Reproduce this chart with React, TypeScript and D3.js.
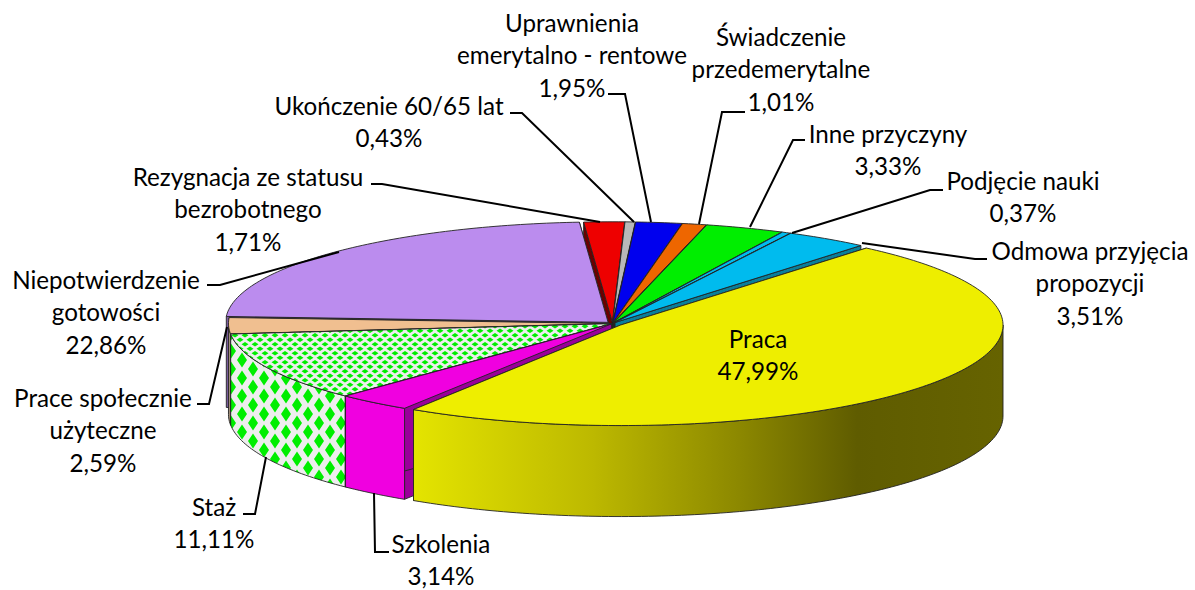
import React from 'react';
import * as d3 from 'd3';

// values in percent, clockwise from the yellow slice
const categories = [
  'Praca', 'Szkolenia', 'Staż', 'Prace społecznie użyteczne', 'Niepotwierdzenie gotowości',
  'Rezygnacja ze statusu bezrobotnego', 'Ukończenie 60/65 lat', 'Uprawnienia emerytalno - rentowe',
  'Świadczenie przedemerytalne', 'Inne przyczyny', 'Podjęcie nauki', 'Odmowa przyjęcia propozycji',
];
const values = [47.99, 3.14, 11.11, 2.59, 22.86, 1.71, 0.43, 1.95, 1.01, 3.33, 0.37, 3.51];
const valueLabels = ['47,99%', '3,14%', '11,11%', '2,59%', '22,86%', '1,71%', '0,43%', '1,95%', '1,01%', '3,33%', '0,37%', '3,51%'];

const labelLines = [
  ['Praca'], ['Szkolenia'], ['Staż'], ['Prace społecznie', 'użyteczne'], ['Niepotwierdzenie', 'gotowości'],
  ['Rezygnacja ze statusu', 'bezrobotnego'], ['Ukończenie 60/65 lat'], ['Uprawnienia', 'emerytalno - rentowe'],
  ['Świadczenie', 'przedemerytalne'], ['Inne przyczyny'], ['Podjęcie nauki'], ['Odmowa przyjęcia', 'propozycji'],
];

// layout and styling, same order as above
const labelX = [758, 441, 214, 103, 106, 248, 389, 572, 781, 888, 1023, 1090];
const labelY = [338, 543, 506, 397, 279, 176, 105, 22, 36, 133, 180, 250];
const leaders: [number, number][][] = [
  [],
  [[389, 552], [375, 552], [374, 493]],
  [[243, 514], [255, 514], [266, 457]],
  [[197, 404], [209, 404], [227, 327]],
  [[207, 285], [220, 285], [339, 252]],
  [[371, 184], [382, 184], [600, 222]],
  [[510, 113], [522, 113], [634, 222]],
  [[608, 94], [625, 94], [651, 222]],
  [[745, 112], [722, 112], [699, 224]],
  [[805, 140], [793, 140], [750, 227]],
  [[943, 190], [930, 190], [792, 233]],
  [[987, 259], [975, 259], [862, 243]],
];
const topFill = ['#eeee00', '#f000e0', 'url(#stazTop)', '#f0bf90', '#bb8cee', '#ee0000', '#b8b8b8', '#0000ee', '#ee6600', '#00ee00', '#00bbee', '#00bbee'];
const sideFill = ['url(#yellowSide)', '#f000e0', 'url(#stazSide)', '#a08c78', '#7c5ca0', '#d00000', '#808080', '#0000a0', '#a04400', '#00a000', '#00809f', '#00809f'];
const cutFill = ['#a0a000', '#990099', '#888888', '#a08060', '#7c5ca0', '#6b0000', '#707070', '#000090', '#903c00', '#009000', '#0a7f9a', '#0a7f9a'];
const explode = [0.026, 0.004, 0.004, 0.004, 0.016, 0.012, 0.012, 0.012, 0.012, 0.012, 0.012, 0.012];

const width = 1195;
const height = 590;
const depth = 91;
const FONT = 'Lato, "Open Sans", sans-serif';

const x = d3.scaleLinear().domain([-1, 1]).range([230, 995]);
const y = d3.scaleLinear().domain([-1, 1]).range([223, 424]);

const line = d3.line<[number, number]>();
const toRad = (deg: number) => (deg * Math.PI) / 180;

const slices = d3
  .pie<number>()
  .sort(null)
  .startAngle(toRad(40))
  .endAngle(toRad(400))(values);

const App = () => {
  // back slices first, yellow always on top of its neighbours
  const order = d3.range(values.length).sort((a, b) => {
    const key = (i: number) => (i === 0 ? 2 : -Math.cos((slices[i].startAngle + slices[i].endAngle) / 2));
    return key(a) - key(b);
  });

  const parts = order.map(i => {
    const s = slices[i];
    const mid = (s.startAngle + s.endAngle) / 2;
    const ox = x(Math.sin(mid) * explode[i]) - x(0);
    const oy = y(-Math.cos(mid) * explode[i]) - y(0);
    const pt = (a: number, dz = 0): [number, number] => [x(Math.sin(a)) + ox, y(-Math.cos(a)) + oy + dz];
    const apex: [number, number] = [x(0) + ox, y(0) + oy];
    const apexLow: [number, number] = [apex[0], apex[1] + depth];
    const arc = (a0: number, a1: number, dz = 0) => {
      const n = Math.max(2, Math.ceil((a1 - a0) / toRad(1)));
      return d3.range(n + 1).map(k => pt(a0 + ((a1 - a0) * k) / n, dz));
    };

    const top = line([apex, ...arc(s.startAngle, s.endAngle)]) + 'Z';
    const cutStart = line([apex, pt(s.startAngle), pt(s.startAngle, depth), apexLow]) + 'Z';
    const cutEnd = line([apex, pt(s.endAngle), pt(s.endAngle, depth), apexLow]) + 'Z';

    // outer wall only on the part of the rim that faces the viewer
    const a0 = Math.max(s.startAngle, Math.PI / 2);
    const a1 = Math.min(s.endAngle, (3 * Math.PI) / 2);
    const wall = a1 > a0 ? line([...arc(a0, a1), ...arc(a0, a1, depth).reverse()]) + 'Z' : null;

    return (
      <g key={categories[i]} stroke="#222" strokeWidth={0.9} strokeLinejoin="round">
        <path d={cutStart} fill={cutFill[i]} />
        <path d={cutEnd} fill={cutFill[i]} />
        {wall && <path d={wall} fill={sideFill[i]} />}
        <path d={top} fill={topFill[i]} />
      </g>
    );
  });

  return (
    <svg width={width} height={height} style={{ position: 'absolute', left: 0, top: 0 }} fontFamily={FONT}>
      <defs>
        <linearGradient id="yellowSide" gradientUnits="userSpaceOnUse" x1={414} x2={1005} y1={0} y2={0}>
          <stop offset="0" stopColor="#e4e400" />
          <stop offset="0.3" stopColor="#bdb900" />
          <stop offset="0.55" stopColor="#8c8800" />
          <stop offset="0.75" stopColor="#5f5c00" />
          <stop offset="1" stopColor="#666300" />
        </linearGradient>
        <pattern id="stazTop" patternUnits="userSpaceOnUse" width={10} height={9}>
          <rect width={10} height={9} fill="#eeeeee" />
          <path d="M5 0L8.5 2.25L5 4.5L1.5 2.25Z M0 4.5L3.5 6.75L0 9L-3.5 6.75Z M10 4.5L13.5 6.75L10 9L6.5 6.75Z" fill="#00ee00" />
        </pattern>
        <pattern id="stazSide" patternUnits="userSpaceOnUse" width={22} height={18}>
          <rect width={22} height={18} fill="#eeeeee" />
          <path d="M11 1.5L16 9L11 16.5L6 9Z M0 -7.5L5 0L0 7.5L-5 0Z M22 -7.5L27 0L22 7.5L17 0Z M0 10.5L5 18L0 25.5L-5 18Z M22 10.5L27 18L22 25.5L17 18Z" fill="#00ee00" />
        </pattern>
      </defs>

      {parts}

      <g fill="none" stroke="#000" strokeWidth={2}>
        {leaders.map((pts, i) => pts.length > 0 && <path key={i} d={line(pts) as string} />)}
      </g>

      <g fontSize={24.2} fill="#000" textAnchor="middle">
        {categories.map((c, i) => {
          const rows = [...labelLines[i], valueLabels[i]];
          return (
            <text key={c} x={labelX[i]} y={labelY[i]} dominantBaseline="central">
              {rows.map((r, k) => (
                <tspan key={k} x={labelX[i]} y={labelY[i] + k * 32.3}>{r}</tspan>
              ))}
            </text>
          );
        })}
      </g>
    </svg>
  );
};

export default App;
